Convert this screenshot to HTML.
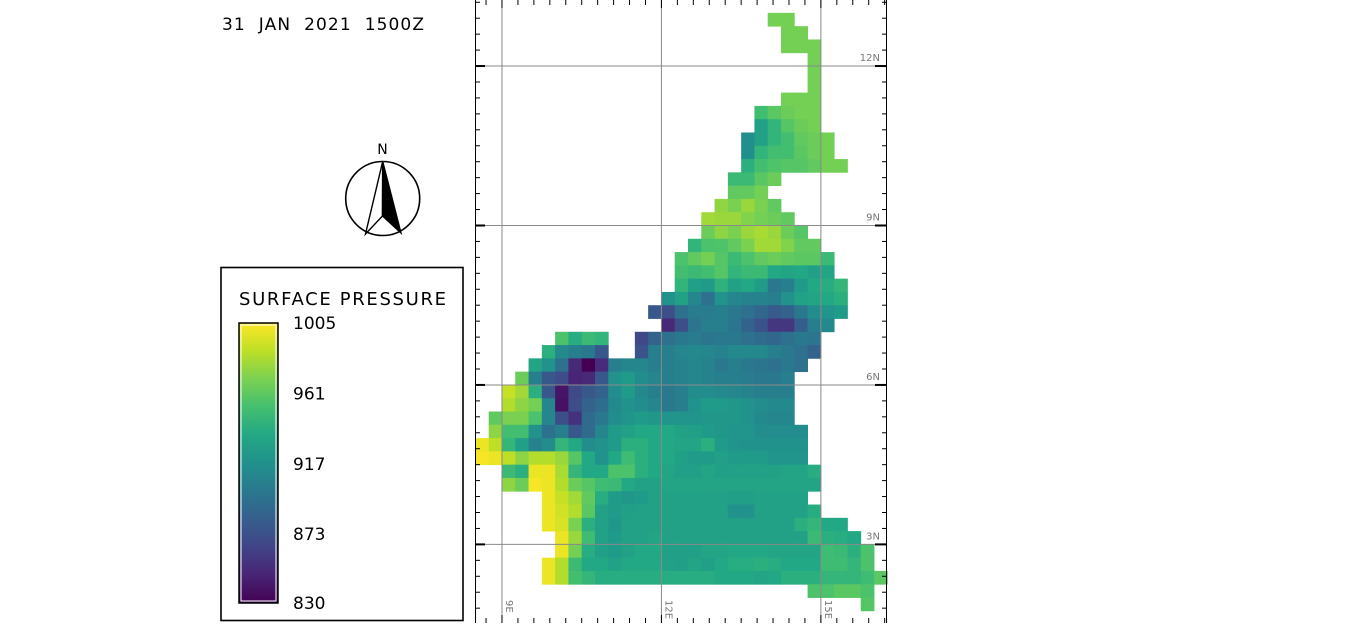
<!DOCTYPE html>
<html><head><meta charset="utf-8"><style>
html,body{margin:0;padding:0;background:#fff;}
body{width:1364px;height:623px;overflow:hidden;position:relative;font-family:"DejaVu Sans","Liberation Sans",sans-serif;}
</style></head><body>
<svg id="chart" width="1364" height="623" viewBox="0 0 1364 623" xmlns="http://www.w3.org/2000/svg">
<text x="222" y="30" font-family="DejaVu Sans, sans-serif" font-size="17" fill="#000" textLength="202" lengthAdjust="spacing" xml:space="preserve">31  JAN  2021  1500Z</text>
<g>
<text x="382.5" y="154" text-anchor="middle" font-size="14" font-family="DejaVu Sans, sans-serif">N</text>
<circle cx="382.7" cy="198.5" r="37" fill="none" stroke="#000" stroke-width="1.6"/>
<polygon points="382.7,161.5 365.5,234 382.5,216" fill="none" stroke="#000" stroke-width="1.4"/>
<polygon points="382.7,161.5 401,233 382.5,216" fill="#000" stroke="#000" stroke-width="1.4"/>
</g>
<g>
<rect x="221" y="267.5" width="242" height="353" fill="#fff" stroke="#000" stroke-width="1.6"/>
<text x="239" y="305" font-size="18" font-family="DejaVu Sans, sans-serif" textLength="207" lengthAdjust="spacing">SURFACE PRESSURE</text>
<defs><linearGradient id="vir" x1="0" y1="1" x2="0" y2="0">
<stop offset="0" stop-color="#440154"/><stop offset="0.1" stop-color="#482475"/><stop offset="0.2" stop-color="#414487"/><stop offset="0.3" stop-color="#355f8d"/><stop offset="0.4" stop-color="#2a788e"/><stop offset="0.5" stop-color="#21918c"/><stop offset="0.6" stop-color="#22a884"/><stop offset="0.7" stop-color="#44bf70"/><stop offset="0.8" stop-color="#7ad151"/><stop offset="0.9" stop-color="#bddf26"/><stop offset="1" stop-color="#fde725"/>
</linearGradient></defs>
<rect x="239" y="323" width="39" height="280" fill="url(#vir)" stroke="#000" stroke-width="1.5"/>
<rect x="241" y="325" width="35" height="276" fill="none" stroke="#fff" stroke-width="1"/>
<g id="cbticks" font-size="17" font-family="DejaVu Sans, sans-serif"></g>
</g>
<g id="map"></g>
</svg>
<script>
const cbLabels = [1005, 961, 917, 873, 830];
const vmin = 830, vmax = 1005;
const rowStart = [];
const rowVals = [];
// row index 0 = 13.25N-13.0N ; column index 0 = 8.5E
rowStart[1]=22; rowVals[1]=[968,968];
rowStart[2]=23; rowVals[2]=[968,968];
rowStart[3]=23; rowVals[3]=[968,968,968];
rowStart[4]=25; rowVals[4]=[968];
rowStart[5]=25; rowVals[5]=[968];
rowStart[6]=25; rowVals[6]=[968];
rowStart[7]=23; rowVals[7]=[968,968,968];
rowStart[8]=21; rowVals[8]=[951,960,965,968,968];
rowStart[9]=21; rowVals[9]=[930,944,958,965,968];
rowStart[10]=20; rowVals[10]=[917,930,944,952,962,965,968];
rowStart[11]=20; rowVals[11]=[917,944,952,952,960,965,968];
rowStart[12]=20; rowVals[12]=[940,952,956,958,958,962,968,968];
rowStart[13]=19; rowVals[13]=[948,948,960,965];
rowStart[14]=19; rowVals[14]=[962,962,968];
rowStart[15]=18; rowVals[15]=[976,970,978,970,962];
rowStart[16]=17; rowVals[16]=[980,978,978,972,968,965,962];
rowStart[17]=17; rowVals[17]=[965,975,970,978,982,978,965,958];
rowStart[18]=16; rowVals[18]=[944,955,956,962,970,980,980,972,962,962];
rowStart[19]=15; rowVals[19]=[955,962,968,958,948,955,962,965,962,960,960,948];
rowStart[20]=15; rowVals[20]=[952,948,952,958,944,948,948,935,932,935,928,932];
rowStart[21]=15; rowVals[21]=[944,928,924,942,930,935,926,900,905,925,935,938,945];
rowStart[22]=14; rowVals[22]=[918,930,910,895,918,910,908,908,905,918,930,932,935,940];
rowStart[23]=13; rowVals[23]=[878,872,895,903,903,905,900,895,888,880,885,900,915,920,925];
rowStart[24]=14; rowVals[24]=[850,872,898,905,905,898,885,875,858,858,882,905,912];
rowStart[25]=6; rowVals[25]=[955,938,948,944,0,0,868,885,895,900,902,898,900,900,895,890,888,895,900,898];
rowStart[26]=5; rowVals[26]=[940,912,905,900,878,0,0,875,905,905,910,912,910,908,912,912,912,905,900,895,885];
rowStart[27]=4; rowVals[27]=[932,918,895,850,830,852,905,910,910,905,905,908,910,908,900,905,900,898,895,900,895];
rowStart[28]=3; rowVals[28]=[965,905,878,870,848,850,878,918,925,915,910,905,908,910,908,905,905,903,900,900,905];
rowStart[29]=2; rowVals[29]=[990,980,940,878,840,868,878,885,915,925,912,905,900,905,915,915,912,910,908,905,905,905];
rowStart[30]=2; rowVals[30]=[985,975,968,910,838,870,885,892,912,918,915,910,900,905,918,925,925,922,918,915,912,912];
rowStart[31]=1; rowVals[31]=[962,970,970,955,910,872,855,890,900,915,920,925,922,920,920,920,922,922,922,918,912,910,910];
rowStart[32]=1; rowVals[32]=[975,952,952,918,895,905,878,890,910,925,930,935,935,935,930,928,925,922,920,920,915,915,915,915];
rowStart[33]=0; rowVals[33]=[1000,988,945,928,908,915,945,935,915,918,925,940,940,935,935,932,932,940,925,920,918,918,918,918,918];
rowStart[34]=0; rowVals[34]=[1003,1000,988,975,985,985,978,958,935,918,935,950,940,935,935,928,925,925,928,925,925,925,920,920,920];
rowStart[35]=2; rowVals[35]=[948,940,1000,1000,982,945,935,935,955,955,940,935,932,928,928,932,928,930,930,930,930,932,932,938];
rowStart[36]=2; rowVals[36]=[975,965,1003,1000,985,965,958,950,948,935,930,930,932,932,932,932,932,932,932,932,932,932,932,932];
rowStart[37]=5; rowVals[37]=[1000,990,980,962,938,925,922,925,930,930,930,930,930,930,928,928,930,930,930,930];
rowStart[38]=5; rowVals[38]=[1000,993,985,960,930,925,928,930,930,930,930,930,930,930,918,918,930,930,930,930,938];
rowStart[39]=5; rowVals[39]=[1000,995,970,940,930,922,930,930,930,930,930,930,930,930,930,930,930,930,930,940,945,935,935];
rowStart[40]=6; rowVals[40]=[1000,978,950,930,925,930,930,932,930,930,930,930,930,930,930,930,930,930,930,948,940,938,935];
rowStart[41]=6; rowVals[41]=[1000,968,938,928,925,930,935,935,928,928,928,932,932,935,935,935,932,932,932,932,950,948,940,955];
rowStart[42]=5; rowVals[42]=[1000,985,948,935,935,930,935,935,935,930,928,932,928,935,938,938,940,938,935,935,935,950,950,945,955];
rowStart[43]=5; rowVals[43]=[1000,985,952,945,938,938,938,938,938,938,938,938,938,935,935,935,932,935,940,940,940,945,945,945,950,960];
rowStart[44]=25; rowVals[44]=[955,955,960,960,955];
rowStart[45]=29; rowVals[45]=[958];

const latLabels = ["12N","9N","6N","3N"];
const latVals = [12,9,6,3];
const lonLabels = ["9E","12E","15E"];
const lonVals = [9,12,15];

const NS="http://www.w3.org/2000/svg";
const X0=475.4, LON0=8.5, PXDEG=53.15;
const Y0=-0.4, LAT0=13.25;
function xs(lon){return X0+(lon-LON0)*PXDEG;}
function ys(lat){return Y0+(LAT0-lat)*PXDEG;}
const stops=[[68,1,84],[72,36,117],[65,68,135],[53,95,141],[42,120,142],[33,145,140],[34,168,132],[68,191,112],[122,209,81],[189,223,38],[253,231,37]];
const stopPos=[0,0.1,0.2,0.3,0.4,0.5,0.6,0.7,0.8,0.9,1];
function viridis(v){
  let t=Math.max(0,Math.min(1,(v-vmin)/(vmax-vmin)));
  for(let i=0;i<stopPos.length-1;i++){
    if(t<=stopPos[i+1]){const f=(t-stopPos[i])/(stopPos[i+1]-stopPos[i]);
      const c=stops[i].map((a,k)=>Math.round(a+(stops[i+1][k]-a)*f));return `rgb(${c[0]},${c[1]},${c[2]})`;}
  }
  return "rgb(253,231,37)";
}
function mk(tag,attrs,parent){const e=document.createElementNS(NS,tag);for(const k in attrs)e.setAttribute(k,attrs[k]);parent.appendChild(e);return e;}
const map=document.getElementById('map');
const cells=mk('g',{},map);


for(let r=0;r<rowVals.length;r++){
  if(!rowVals[r])continue;
  rowVals[r].forEach((v,i)=>{
    if(!v)return;
    const c=rowStart[r]+i;
    const lon=LON0+c*0.25, lat=LAT0-r*0.25;
    const x1=xs(lon), x2=xs(lon+0.25), y1=ys(lat), y2=ys(lat-0.25);
    const rc=mk('rect',{x:x1.toFixed(2),y:y1.toFixed(2),width:(x2-x1+0.4).toFixed(2),height:(y2-y1+0.4).toFixed(2),fill:viridis(v)},cells);
    
    
  });
}
const grid=mk('g',{stroke:'#8a8a8a','stroke-width':'1'},map);


latVals.forEach((lat,i)=>{
  const y=ys(lat);
  mk('line',{x1:475,x2:887,y1:y,y2:y},grid);
  const t=mk('text',{x:880,y:y-5,'text-anchor':'end','font-size':'10',fill:'#777',stroke:'none','font-family':'DejaVu Sans, sans-serif'},map);
  t.textContent=latLabels[i];
  
  
});
lonVals.forEach((lon,i)=>{
  const x=xs(lon);
  mk('line',{x1:x,x2:x,y1:0,y2:623},grid);
  const t=mk('text',{x:0,y:0,'font-size':'10',fill:'#777','font-family':'DejaVu Sans, sans-serif',transform:`translate(${x+4},600) rotate(90)`},map);
  t.textContent=lonLabels[i];
  
  
});
const fr=mk('g',{stroke:'#000','stroke-width':'1'},map);


mk('line',{x1:475.5,x2:475.5,y1:0,y2:623},fr);
mk('line',{x1:886.5,x2:886.5,y1:0,y2:623},fr);
for(let lat=1.5;lat<=13.25;lat+=0.3){const y=ys(lat);const maj=Math.abs(lat-Math.round(lat/3)*3)<0.01;
  mk('line',{x1:475,x2:475+(maj?10:5),y1:y,y2:y,'stroke-width':maj?2:1},fr);mk('line',{x1:887-(maj?12:5),x2:887,y1:y,y2:y,'stroke-width':maj?2:1},fr);}
for(let lon=8.7;lon<=16.3;lon+=0.3){const x=xs(lon);const maj=Math.abs(lon-Math.round(lon/3)*3)<0.01;
  mk('line',{x1:x,x2:x,y1:0,y2:maj?8:5},fr);mk('line',{x1:x,x2:x,y1:623-(maj?8:5),y2:623},fr);}
const cb=document.getElementById('cbticks');
cbLabels.forEach(v=>{
  const y=603-(v-vmin)/(vmax-vmin)*280;
  const t=mk('text',{x:293,y:y+6},cb);
  t.textContent=v;
  
  
});
</script>
</body></html>
